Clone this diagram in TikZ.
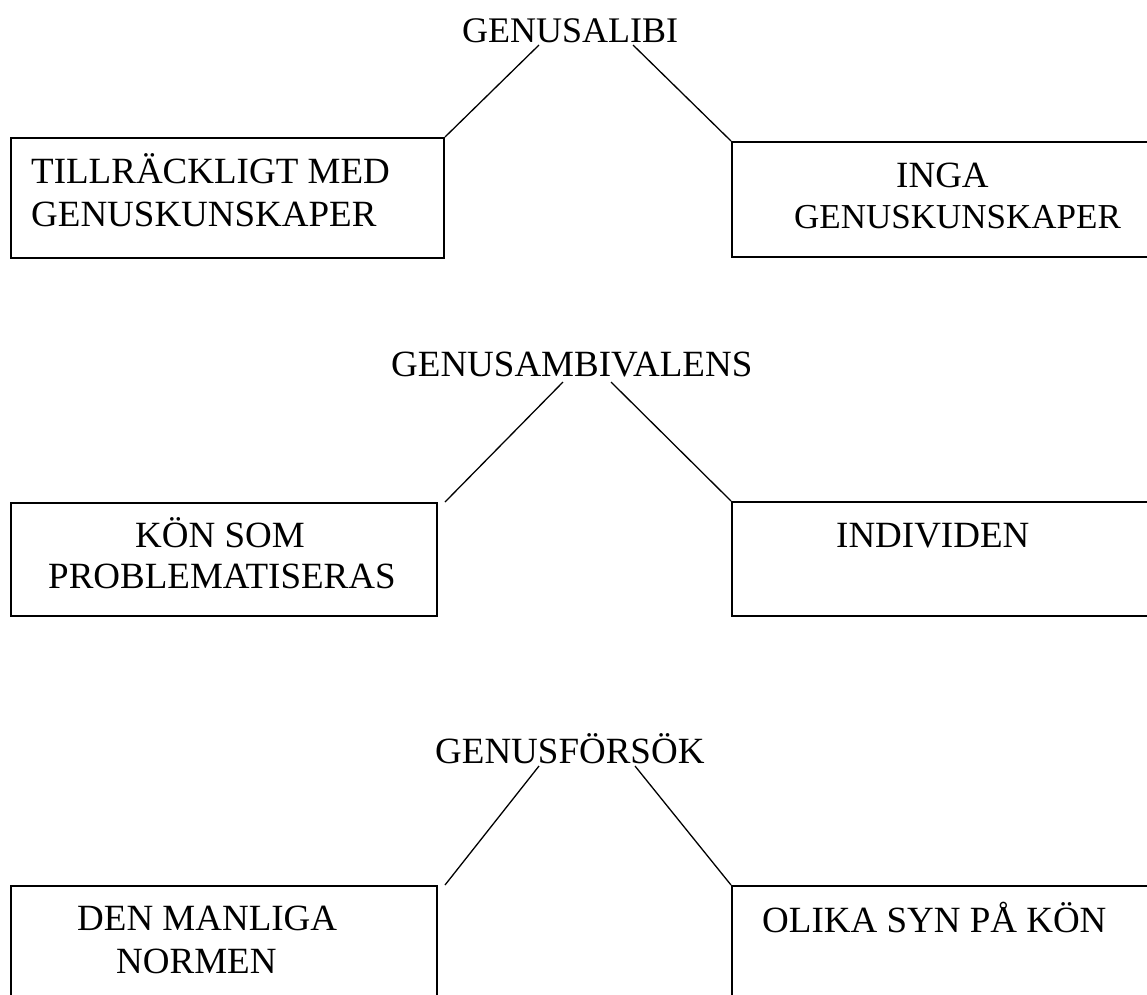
\documentclass[tikz,border=0pt]{standalone}
\usepackage{fontspec}
\setmainfont{Liberation Serif}
\begin{document}
\begin{tikzpicture}[x=1pt,y=-1pt,
  txt/.style={inner sep=0pt, anchor=base west, font=\fontsize{37}{44}\selectfont},
  boxstyle/.style={draw, line width=2pt, inner sep=0pt, anchor=north west},
  conn/.style={line width=1.3pt}]
\useasboundingbox (0,0) rectangle (1147,994);

% ---------- GENUSALIBI ----------
\node[txt, font=\fontsize{36}{43}\selectfont] (t1) at (462,42) {GENUSALIBI};
\node[boxstyle, minimum width=433pt, minimum height=120pt] (b1) at (10,137) {};
\node[boxstyle, minimum width=430pt, minimum height=115pt] (b2) at (731,141) {};
\node[txt] (b1a) at (31,183) {TILLRÄCKLIGT MED};
\node[txt] (b1b) at (31,226) {GENUSKUNSKAPER};
\node[txt] (b2a) at (896,187) {INGA};
\node[txt, font=\fontsize{35}{42}\selectfont] (b2b) at (794,228) {GENUSKUNSKAPER};
\coordinate (t1l) at (539,45);
\coordinate (t1r) at (633,45);
\draw[conn] (t1l) -- (b1.north east);
\draw[conn] (t1r) -- (b2.north west);

% ---------- GENUSAMBIVALENS ----------
\node[txt] (t2) at (391,376) {GENUSAMBIVALENS};
\node[boxstyle, minimum width=426pt, minimum height=113pt] (b3) at (10,502) {};
\node[boxstyle, minimum width=430pt, minimum height=114pt] (b4) at (731,501) {};
\node[txt] (b3a) at (135,547) {KÖN SOM};
\node[txt] (b3b) at (48,588) {PROBLEMATISERAS};
\node[txt] (b4a) at (836,547) {INDIVIDEN};
\coordinate (t2l) at (563,382);
\coordinate (t2r) at (611,382);
\draw[conn] (t2l) -- ([xshift=7pt]b3.north east);
\draw[conn] (t2r) -- (b4.north west);

% ---------- GENUSFÖRSÖK ----------
\node[txt] (t3) at (435,763) {GENUSFÖRSÖK};
\node[boxstyle, minimum width=426pt, minimum height=130pt] (b5) at (10,885) {};
\node[boxstyle, minimum width=430pt, minimum height=130pt] (b6) at (731,885) {};
\node[txt] (b5a) at (77,930) {DEN MANLIGA};
\node[txt] (b5b) at (116,973) {NORMEN};
\node[txt] (b6a) at (762,932) {OLIKA SYN PÅ KÖN};
\coordinate (t3l) at (539,766);
\coordinate (t3r) at (635,766);
\draw[conn] (t3l) -- ([xshift=7pt]b5.north east);
\draw[conn] (t3r) -- (b6.north west);
\end{tikzpicture}
\end{document}
